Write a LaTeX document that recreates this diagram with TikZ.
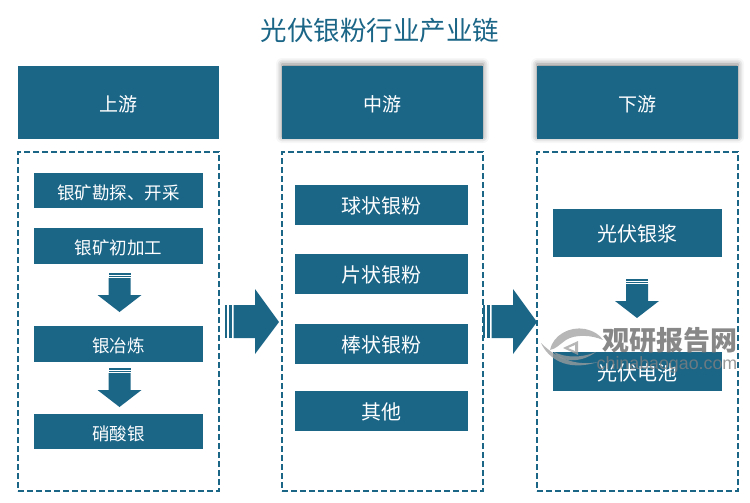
\documentclass[tikz,border=0pt]{standalone}
\usepackage{fontspec}
\setmainfont{Noto Sans CJK SC}
\newfontfamily\latinfont{Liberation Sans}
\usetikzlibrary{shadows.blur}
\definecolor{chainblue}{HTML}{1B6587}
\tikzset{
    plumb/.style={text height=18pt, text depth=1pt},
    headbox/.style={fill=chainblue, text=white, plumb, minimum width=201pt, minimum height=73pt, inner sep=0pt, font=\fontsize{19}{19}\selectfont},
    softhead/.style={headbox, blur shadow={shadow xshift=0pt, shadow yshift=2pt, shadow blur radius=6pt, shadow opacity=50}},
    dashbox/.style={draw=chainblue, line width=1.6pt, dash pattern=on 6pt off 3pt, minimum width=201pt, minimum height=339pt, inner sep=0pt},
    itembox/.style={fill=chainblue, text=white, plumb, inner sep=0pt},
    upitem/.style={itembox, minimum width=169pt, font=\fontsize{17.5}{18}\selectfont},
    miditem/.style={itembox, minimum width=173pt, minimum height=40pt, font=\fontsize{20}{20}\selectfont},
    downitem/.style={itembox, minimum width=169pt, font=\fontsize{20}{20}\selectfont},
    blockarrow/.style={fill=chainblue},
    markgray/.style={fill=gray!75, opacity=0.75}
}
% one arrow pointing down, its shaft starting at #2
\newcommand{\dropmark}[2]{%
    \fill [blockarrow] (#1-11, #2) rectangle (#1+11, #2+1.5);
    \fill [blockarrow] (#1-11, #2+3) rectangle (#1+11, #2+4);
    \fill [blockarrow] (#1-11, #2+5) -- (#1+11, #2+5) -- (#1+11, #2+22) -- (#1+22, #2+22)
        -- (#1, #2+39) -- (#1-22, #2+22) -- (#1-11, #2+22) -- cycle;
}
% the large one between two columns, #1 is the tip
\newcommand{\sidemark}[1]{%
    \fill [blockarrow] (#1-54, 305) rectangle (#1-52, 338);
    \fill [blockarrow] (#1-50.5, 305) rectangle (#1-47, 338);
    \fill [blockarrow] (#1-45.5, 305) -- (#1-24, 305) -- (#1-24, 289) -- (#1, 322)
        -- (#1-24, 354) -- (#1-24, 338) -- (#1-45.5, 338) -- cycle;
}
\begin{document}
\begin{tikzpicture}[x=1pt, y=-1pt]
    \useasboundingbox (0, 0) rectangle (750, 503);
    \node [text=chainblue, font=\fontsize{26.5}{27}\selectfont] (title) at (380, 30) {光伏银粉行业产业链};
%
    \node [headbox] (uphead) at (118.5, 102.5) {上游};
    \node [softhead] (midhead) at (382.5, 102.5) {中游};
    \node [softhead] (downhead) at (637.5, 102.5) {下游};
%
    \node [dashbox] (upframe) at (118.5, 321.5) {};
    \node [dashbox] (midframe) at (382.5, 321.5) {};
    \node [dashbox] (downframe) at (637.5, 321.5) {};
%
    \node [upitem, minimum height=35pt] (survey) at (118.5, 190.5) {银矿勘探、开采};
    \node [upitem, minimum height=36pt] (rough) at (118.5, 246) {银矿初加工};
    \node [upitem, minimum height=36pt] (smelt) at (118.5, 344) {银冶炼};
    \node [upitem, minimum height=35pt] (nitrate) at (118.5, 431.5) {硝酸银};
    \dropmark{119.5}{273}
    \dropmark{119.5}{368}
%
    \node [miditem] (ball) at (381.5, 204.5) {球状银粉};
    \node [miditem] (flake) at (381.5, 273.5) {片状银粉};
    \node [miditem] (rod) at (381.5, 344) {棒状银粉};
    \node [miditem] (other) at (381.5, 411) {其他};
%
    \node [downitem, minimum height=48pt] (paste) at (637.5, 233) {光伏银浆};
    \node [downitem, minimum height=39pt] (cell) at (637.5, 371.5) {光伏电池};
    \dropmark{637}{279}
%
    \sidemark{279}
    \sidemark{537}
%
    % watermark
    \fill [markgray] (550, 350) .. controls (553, 335) and (570, 326) .. (585, 329)
        .. controls (594, 331) and (600, 335) .. (603, 340)
        .. controls (592, 335) and (575, 334) .. (566, 340)
        .. controls (560, 344) and (556, 349) .. (550, 350) -- cycle;
    \fill [markgray] (541, 343) .. controls (548, 358) and (566, 372) .. (598, 362)
        .. controls (578, 366) and (558, 360) .. (541, 343) -- cycle;
    \fill [markgray] (554, 352) .. controls (560, 362) and (580, 364) .. (596, 352)
        .. controls (582, 358) and (566, 358) .. (554, 352) -- cycle;
    \begin{scope}[even odd rule]
        \fill [markgray] (563, 348) -- (578, 341) -- (578, 355) -- cycle (568, 348) -- (575, 345) -- (575, 351) -- cycle;
    \end{scope}
    \node [text=black!55, opacity=0.85, font=\fontsize{27}{27}\selectfont\bfseries] (markname) at (670, 340) {观研报告网};
    \node [text=black!50, opacity=0.8, font=\latinfont\fontsize{17.8}{18}\selectfont] (marksite) at (667, 365) {chinabaogao.com};
\end{tikzpicture}
\end{document}
